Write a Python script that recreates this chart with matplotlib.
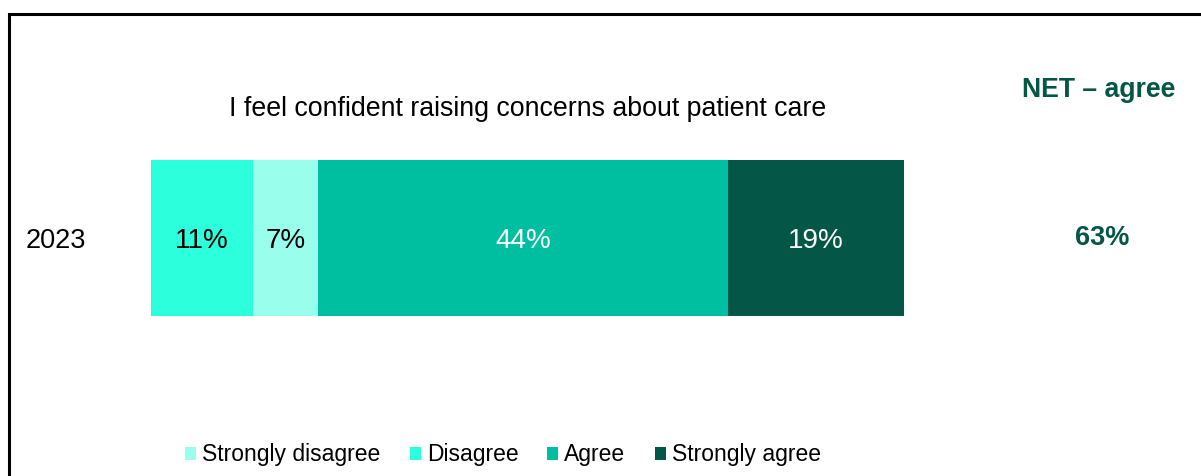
import matplotlib
matplotlib.use("Agg")
import matplotlib.pyplot as plt
from matplotlib.patches import Rectangle, Patch

plt.rcParams['font.family'] = ['Liberation Sans', 'DejaVu Sans']

question = "I feel confident raising concerns about patient care"
years = ["2023"]
# segments in the order they are stacked along the bar
segments = ["Disagree", "Strongly disagree", "Agree", "Strongly agree"]
values = [11, 7, 44, 19]
net_agree = [63]
legend_order = ["Strongly disagree", "Disagree", "Agree", "Strongly agree"]

colours = {"Strongly disagree": "#99FFEC", "Disagree": "#2CFFDC",
           "Agree": "#00BFA0", "Strongly agree": "#045646"}
text_colours = {"Strongly disagree": "black", "Disagree": "black",
                "Agree": "white", "Strongly agree": "white"}
net_colour = "#045646"

W, H = 1201, 476
fig = plt.figure(figsize=(W / 100, H / 100), dpi=100)

# frame around the chart, running off the right and bottom edges
fig.patches.append(Rectangle((9 / W, -0.05), 1.1, 1 - 14 / H + 0.05,
                             transform=fig.transFigure, fill=False,
                             edgecolor="black", linewidth=2.2))

ax = fig.add_axes([151 / W, (H - 316) / H, 930 / W, 156 / H])
left = 0
for name, v in zip(segments, values):
    ax.barh(0, v, left=left, height=1, color=colours[name], edgecolor="none")
    ax.text(left + v / 2, -0.02, f"{v}%", ha="center", va="center",
            fontsize=20, color=text_colours[name])
    left += v

ax.set_xlim(0, 100)
ax.set_ylim(-0.5, 0.5)
ax.set_yticks([0])
ax.set_yticklabels(years, fontsize=19.5)
ax.tick_params(axis="y", length=0, pad=47)
ax.set_xticks([])
for s in ax.spines.values():
    s.set_visible(False)

fig.text(528 / W, 1 - 109 / H, question, ha="center", va="center", fontsize=19.3)
fig.text(1099 / W, 1 - 90 / H, "NET \u2013 agree", ha="center", va="center",
         fontsize=19.2, fontweight="bold", color=net_colour)
fig.text(1102 / W, 1 - 238 / H, f"{net_agree[0]}%", ha="center", va="center",
         fontsize=19.5, fontweight="bold", color=net_colour)

handles = [Patch(facecolor=colours[n], edgecolor="none") for n in legend_order]
fig.legend(handles, legend_order, loc="center", bbox_to_anchor=(503 / W, 1 - 455 / H),
           ncol=4, frameon=False, fontsize=16.5, handlelength=0.48, handleheight=0.48,
           handletextpad=0.26, columnspacing=1.27)

fig.savefig("out.png", dpi=100)
